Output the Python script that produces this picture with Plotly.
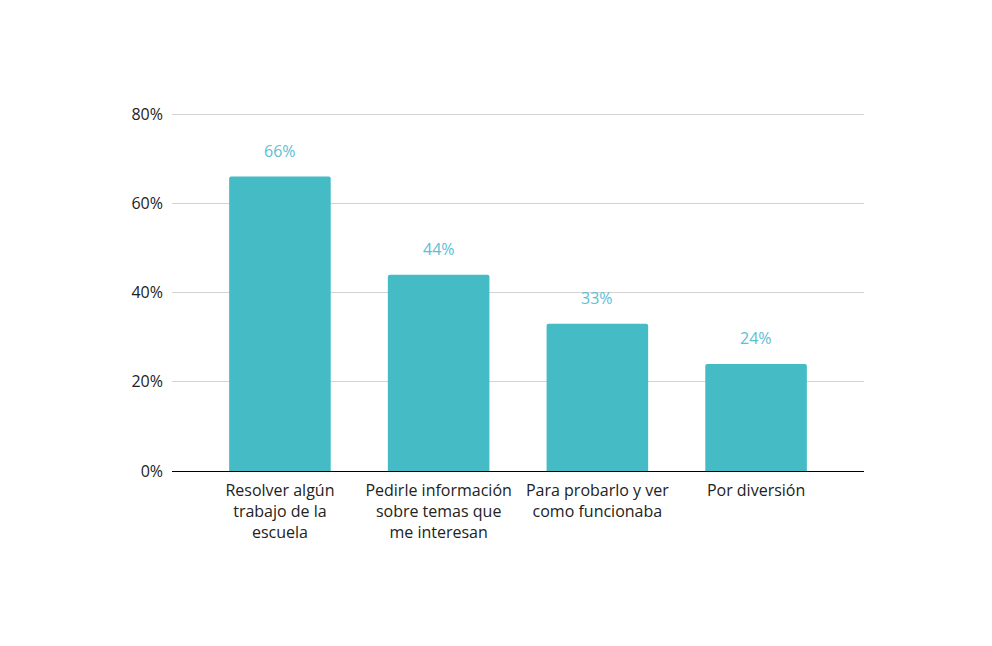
import plotly.graph_objects as go

categories = ["Resolver algún<br>trabajo de la<br>escuela",
              "Pedirle información<br>sobre temas que<br>me interesan",
              "Para probarlo y ver<br>como funcionaba",
              "Por diversión"]
values = [66, 44, 33, 24]
labels = ["66%", "44%", "33%", "24%"]
y_ticks = [0, 20, 40, 60, 80]
y_tick_text = ["0%", "20%", "40%", "60%", "80%"]

FONT = "Open Sans"
fig = go.Figure()
fig.add_trace(go.Bar(
    x=list(range(len(categories))), y=values,
    width=0.64,
    marker=dict(color="#45bcc5", line=dict(width=0), cornerradius=2),
    hoverinfo="skip",
))
for i, (v, t) in enumerate(zip(values, labels)):
    fig.add_annotation(x=i, y=v, text=t, showarrow=False, yshift=26,
                       font=dict(family=FONT, size=16, color="#5bc0d3"))

fig.update_layout(
    width=992, height=646,
    margin=dict(l=172, r=128, t=113, b=175),
    paper_bgcolor="white", plot_bgcolor="white",
    showlegend=False,
    font=dict(family=FONT, size=16, color="#222222"),
    bargap=0.36,
)
fig.update_xaxes(
    tickmode="array", tickvals=list(range(len(categories))), ticktext=categories,
    range=[-0.68, 3.68], showgrid=False, showline=False, ticks="",
    ticklabelstandoff=8,
    tickfont=dict(family=FONT, size=16, color="#222222"),
)
fig.update_yaxes(
    range=[0, 80.25], tickvals=y_ticks, ticktext=y_tick_text,
    showgrid=True, gridcolor="#d3d3d3", gridwidth=1,
    zeroline=True, zerolinecolor="#000000", zerolinewidth=1,
    showline=False, ticks="", ticklabelstandoff=8,
    tickfont=dict(family=FONT, size=16, color="#222222"),
)
fig.write_html("out.html")
